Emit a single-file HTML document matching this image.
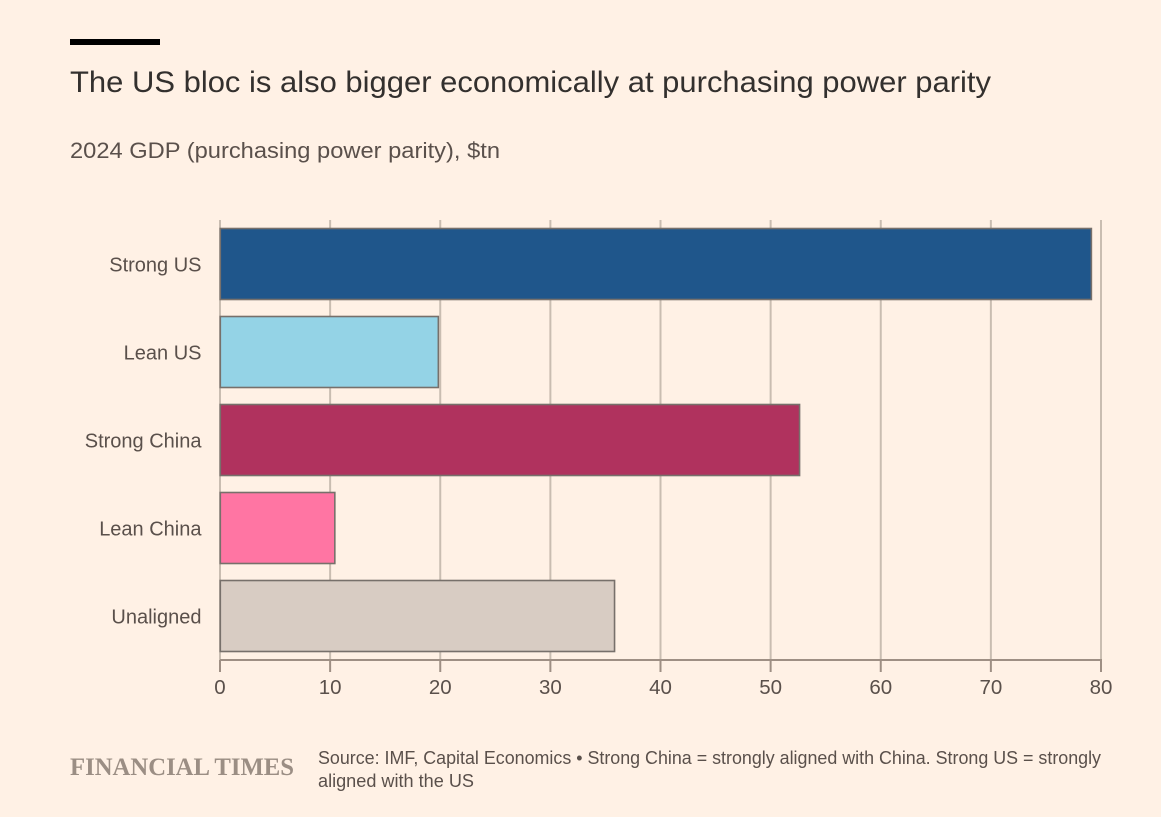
<!DOCTYPE html>
<html lang="en">
<head>
<meta charset="utf-8">
<title>The US bloc is also bigger economically at purchasing power parity</title>
<style>
html,body{margin:0;padding:0;background:#fff1e5;}
svg{display:block;}
text{font-family:"Liberation Sans",sans-serif;}
</style>
</head>
<body>
<svg id="chart" xmlns="http://www.w3.org/2000/svg" width="1161" height="817" viewBox="0 0 1161 817">
  <rect x="0" y="0" width="1161" height="817" fill="#fff1e5"/>
  <rect x="70" y="39" width="90" height="6" fill="#000000"/>
  <text x="70" y="92" font-size="30" fill="#33302e" textLength="921" lengthAdjust="spacingAndGlyphs">The US bloc is also bigger economically at purchasing power parity</text>
  <text x="70" y="158" font-size="22" fill="#5a504b" textLength="430" lengthAdjust="spacingAndGlyphs">2024 GDP (purchasing power parity), $tn</text>
  <g id="grid"></g>
  <g id="bars"></g>
  <g id="axis"></g>
  <g id="cats"></g>
  <text x="70" y="775" font-size="25" font-weight="bold" fill="#9b8e84" style="font-family:'Liberation Serif',serif" textLength="224" lengthAdjust="spacingAndGlyphs">FINANCIAL TIMES</text>
  <text x="318" y="764" font-size="18" fill="#5a504b" textLength="783" lengthAdjust="spacingAndGlyphs">Source: IMF, Capital Economics • Strong China = strongly aligned with China. Strong US = strongly</text>
  <text x="318" y="787" font-size="18" fill="#5a504b" textLength="156" lengthAdjust="spacingAndGlyphs">aligned with the US</text>
</svg>
<script>
const categories = ["Strong US", "Lean US", "Strong China", "Lean China", "Unaligned"];
const gdpValues = [79.1, 19.8, 52.6, 10.4, 35.8];
const barColors = ["#1f568b", "#94d3e6", "#b0325e", "#ff75a3", "#d8ccc3"];
const xTicks = [0, 10, 20, 30, 40, 50, 60, 70, 80];

const NS = "http://www.w3.org/2000/svg";
const plotLeft = 220, plotRight = 1101, axisY = 660, plotTop = 220;
const firstBarTop = 228, bandStep = 88, barHeight = 71;
const xMax = xTicks[xTicks.length - 1];

function xScale(v) { return plotLeft + (v / xMax) * (plotRight - plotLeft); }
function yScale(i) { return firstBarTop + i * bandStep; }
function make(tag, attrs) {
  const el = document.createElementNS(NS, tag);
  for (const k in attrs) el.setAttribute(k, attrs[k]);
  return el;
}

const grid = document.getElementById("grid");
const axis = document.getElementById("axis");
const bars = document.getElementById("bars");
const cats = document.getElementById("cats");

xTicks.forEach(function (t) {
  const x = xScale(t);
  const line = make("line", { x1: x, x2: x, y1: plotTop, y2: axisY, stroke: "#c9bdb1", "stroke-width": 2 });
  
  
  grid.appendChild(line);

  const tick = make("line", { x1: x, x2: x, y1: axisY, y2: 672, stroke: "#9e8f84", "stroke-width": 2 });
  
  
  axis.appendChild(tick);

  const label = make("text", { x: x, y: 694, "text-anchor": "middle", "font-size": 20.5, fill: "#5a504b" });
  
  
  label.textContent = t;
  axis.appendChild(label);
});

const axisLine = make("line", { x1: plotLeft, x2: plotRight + 1, y1: axisY, y2: axisY, stroke: "#9e8f84", "stroke-width": 2 });


axis.appendChild(axisLine);

categories.forEach(function (name, i) {
  const bar = make("rect", {
    x: plotLeft + 0.3,
    y: yScale(i) + 0.5,
    width: xScale(gdpValues[i]) - plotLeft,
    height: barHeight,
    fill: barColors[i],
    stroke: "#77706b",
    "stroke-width": 1.6
  });
  
  
  bars.appendChild(bar);

  const label = make("text", { x: 201.5, y: yScale(i) + 43.5, "text-anchor": "end", "font-size": 20, fill: "#5a504b" });
  
  
  label.textContent = name;
  cats.appendChild(label);
});
</script>
</body>
</html>
